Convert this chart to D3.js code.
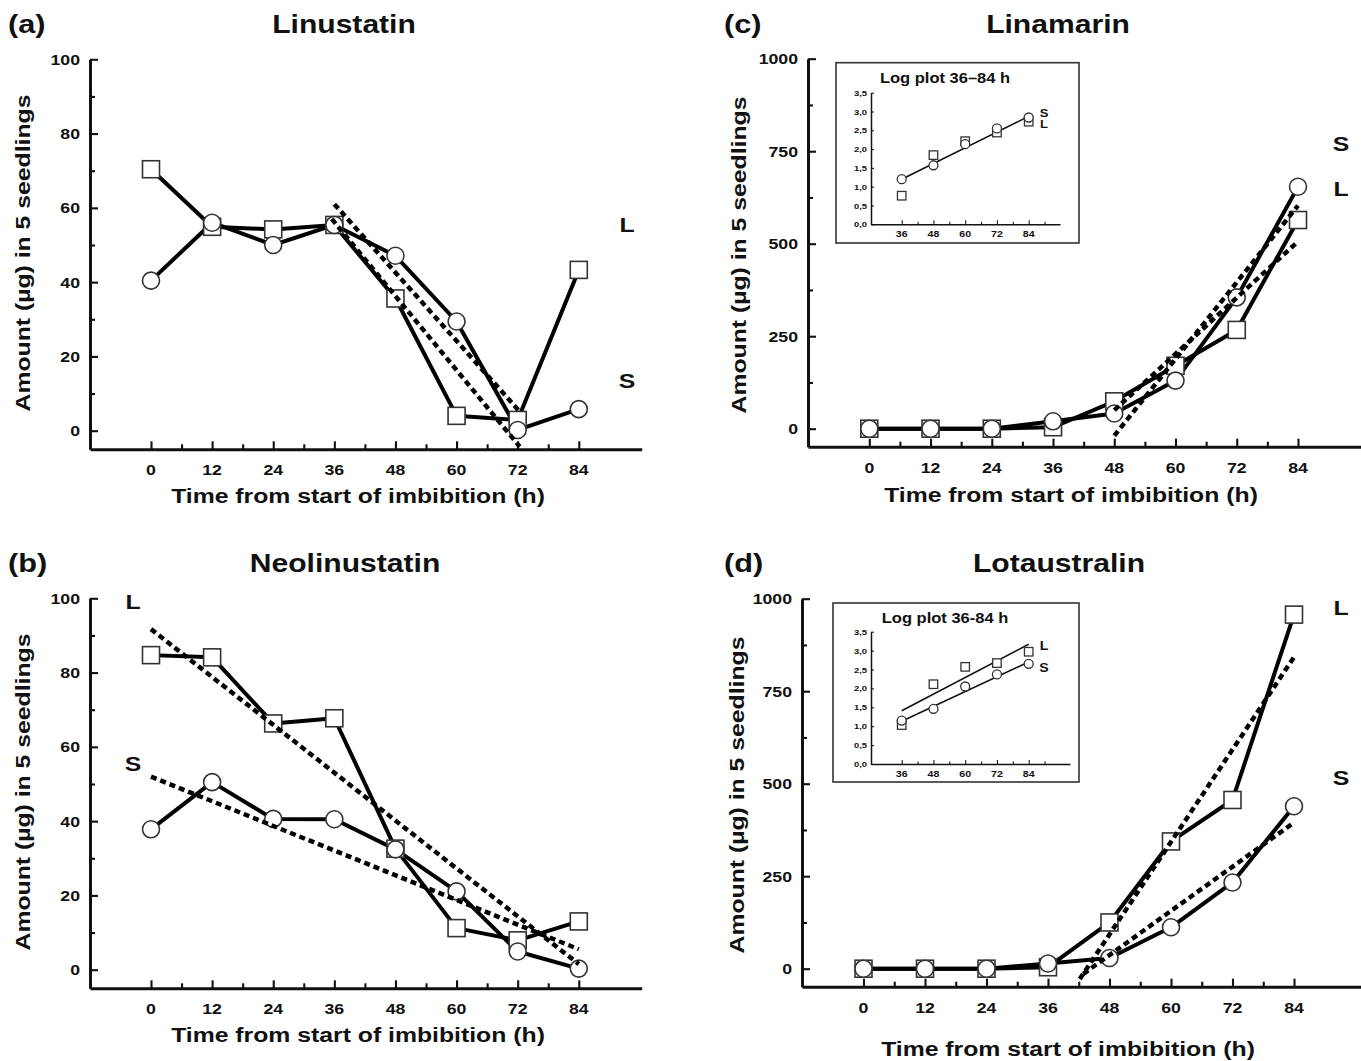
<!DOCTYPE html>
<html>
<head>
<meta charset="utf-8">
<script src="https://cdn.jsdelivr.net/npm/d3@7"></script>
<style>body{margin:0;background:#fff}</style>
</head>
<body>
<svg id="chart" width="1361" height="1061"></svg>
<script>
// time points (h)
var hours=[0,12,24,36,48,60,72,84];
// (a) Linustatin
var linuL=[70.4,54.9,54.2,55.4,35.6,4.0,2.9,43.3];
var linuS=[40.4,56,50,55.4,47.1,29.4,0.2,5.8];
var linuTrendL=[[35.5,57],[72.4,-4.3]];
var linuTrendS=[[36,61],[72.5,5]];
// (b) Neolinustatin
var neoL=[84.7,84.1,66.3,67.7,32.6,11.2,7.9,13.0];
var neoS=[37.8,50.5,40.6,40.5,32.4,21.1,4.9,0.3];
var neoTrendL=[[0,91.7],[84,1.5]];
var neoTrendS=[[0,52],[84,5.5]];
// (c) Linamarin
var linaL=[0,0,0,4,74,170,267,564];
var linaS=[0,0,0,20,41,130,355,654];
var linaTrendA=[[48,-19],[84,603]];
var linaTrendB=[[48,50],[84,506]];
// (d) Lotaustralin
var lotaL=[0,0,0,4,125,344,456,957];
var lotaS=[0,0,0,14,29,112,233,439];
var lotaTrendL=[[42.2,-28],[84,842]];
var lotaTrendS=[[42.9,-14],[84,395]];
// insets, log plot 36-84 h
var logHours=[36,48,60,72,84];
var linaLogL=[0.76,1.84,2.21,2.44,2.73];
var linaLogS=[1.2,1.57,2.13,2.55,2.84];
var linaLogFit=[[36,1.2],[84,2.87]];
var lotaLogL=[1.03,2.11,2.57,2.67,2.97];
var lotaLogS=[1.15,1.46,2.05,2.37,2.65];
var lotaLogFitL=[[36,1.41],[84,3.17]];
var lotaLogFitS=[[36,1.13],[84,2.70]];
// ticks
var xTicks=[0,12,24,36,48,60,72,84];
var xMinor=[6,18,30,42,54,66,78];
var yTicks100=[0,20,40,60,80,100];
var yMinor100=[10,30,50,70,90];
var yTicks1000=[0,250,500,750,1000];
var yMinor1000=[125,375,625,875];
var logYTicks=[0,0.5,1,1.5,2,2.5,3,3.5];
var logXMinor=[42,54,66,78,90];

var SX=1.18;
var svg=d3.select('#chart');

function txt(g,s,x,y,size,anchor,rot){
  return g.append('text')
    .attr('transform','translate('+x+','+y+')'+(rot?' rotate('+rot+')':'')+' scale('+SX+',1)')
    .attr('text-anchor',anchor||'middle')
    .attr('font-family','"Liberation Sans", Arial, sans-serif')
    .attr('font-weight','bold')
    .attr('font-size',size)
    .attr('fill','#111')
    .text(s);
}

function marker(g,shape,cx,cy,sz,sw){
  if(shape=='sq'){
    g.append('rect').attr('x',cx-sz/2).attr('y',cy-sz/2).attr('width',sz).attr('height',sz)
      .attr('fill','#fff').attr('stroke','#333').attr('stroke-width',sw);
  } else {
    g.append('circle').attr('cx',cx).attr('cy',cy).attr('r',sz/2)
      .attr('fill','#fff').attr('stroke','#333').attr('stroke-width',sw);
  }
}

function styleAxis(a,w){
  a.select('.domain').attr('stroke','#111').attr('stroke-width',w);
  a.selectAll('.tick line').attr('stroke','#111').attr('stroke-width',w*0.7);
}

function panel(p){
  var g=svg.append('g');
  var x0=d3.scaleLinear().domain([0,84]).range(p.xr);
  var y0=d3.scaleLinear().domain([0,p.yMax]).range(p.yr);
  var xs=x0.copy().domain([x0.invert(p.axX),x0.invert(p.xEnd)]).range([p.axX,p.xEnd]);
  var ys=y0.copy().domain([y0.invert(p.axY),p.yMax]).range([p.axY,y0(p.yMax)]);

  var ay=g.append('g').attr('transform','translate('+p.axX+',0)')
    .call(d3.axisLeft(ys).tickValues(p.yTicks).tickSizeInner(-8).tickSizeOuter(0).tickFormat(''));
  styleAxis(ay,3);
  var aym=g.append('g').attr('transform','translate('+p.axX+',0)')
    .call(d3.axisLeft(ys).tickValues(p.yMinor).tickSizeInner(-5).tickSizeOuter(0).tickFormat(''));
  aym.select('.domain').remove();
  styleAxis(aym,3);
  var ax=g.append('g').attr('transform','translate(0,'+p.axY+')')
    .call(d3.axisBottom(xs).tickValues(xTicks).tickSizeInner(-8).tickSizeOuter(0).tickFormat(''));
  styleAxis(ax,3);
  var axm=g.append('g').attr('transform','translate(0,'+p.axY+')')
    .call(d3.axisBottom(xs).tickValues(xMinor).tickSizeInner(-5).tickSizeOuter(0).tickFormat(''));
  axm.select('.domain').remove();
  styleAxis(axm,3);

  p.yTicks.forEach(function(v){ txt(g,v,p.axX-10,ys(v)+5.5,15,'end'); });
  xTicks.forEach(function(v){ txt(g,v,xs(v),p.axY+26,15,'middle'); });

  txt(g,'Amount (\u00b5g) in 5 seedlings',p.ylX,p.ylY,21,'middle',-90);
  txt(g,'Time from start of imbibition (h)',p.xlX,p.xlY,21,'middle');
  txt(g,p.letter,p.letX,p.titleY,26,'start');
  txt(g,p.title,p.titleX,p.titleY,25.5,'middle');

  var line=d3.line().x(function(d){return xs(d[0]);}).y(function(d){return ys(d[1]);});
  p.series.forEach(function(s){
    g.append('path').datum(hours.map(function(h,i){return [h,s.vals[i]];}))
      .attr('d',line).attr('fill','none').attr('stroke','#000').attr('stroke-width',4)
      .attr('stroke-linejoin','round');
  });
  p.series.forEach(function(s){
    hours.forEach(function(h,i){ marker(g,s.shape,xs(h),ys(s.vals[i]),17,1.6); });
  });
  p.trends.forEach(function(t){
    g.append('path').datum(t).attr('d',line).attr('fill','none').attr('stroke','#000')
      .attr('stroke-width',4.5).attr('stroke-dasharray','6,4');
  });
  p.labels.forEach(function(l){ txt(g,l[0],l[1],l[2],21,'middle'); });

  if(p.inset) inset(p.inset);
}

function inset(q){
  var g=svg.append('g');
  g.append('rect').attr('x',q.box[0]).attr('y',q.box[1]).attr('width',q.box[2]-q.box[0]).attr('height',q.box[3]-q.box[1])
    .attr('fill','#fff').attr('stroke','#333').attr('stroke-width',1.6);
  var x0=d3.scaleLinear().domain([36,84]).range([901.7,1028.7]);
  var xs=x0.copy().domain([x0.invert(q.axX),x0.invert(q.xEnd)]).range([q.axX,q.xEnd]);
  var ys=d3.scaleLinear().domain([0,3.5]).range(q.yr);
  var ay=g.append('g').attr('transform','translate('+q.axX+',0)')
    .call(d3.axisLeft(ys).tickValues(logYTicks).tickSizeInner(-3).tickSizeOuter(0).tickFormat(''));
  styleAxis(ay,1.5);
  var ax=g.append('g').attr('transform','translate(0,'+ys(0)+')')
    .call(d3.axisBottom(xs).tickValues(logHours).tickSizeInner(-4).tickSizeOuter(0).tickFormat(''));
  styleAxis(ax,1.5);
  var axm=g.append('g').attr('transform','translate(0,'+ys(0)+')')
    .call(d3.axisBottom(xs).tickValues(logXMinor).tickSizeInner(-2.5).tickSizeOuter(0).tickFormat(''));
  axm.select('.domain').remove();
  styleAxis(axm,1.5);
  logYTicks.forEach(function(v){ txt(g,v.toFixed(1).replace('.',','),q.axX-4,ys(v)+3,8,'end'); });
  logHours.forEach(function(v){ txt(g,v,xs(v),ys(0)+13,9,'middle'); });
  txt(g,q.title,945,q.titleY,14,'middle');

  var line=d3.line().x(function(d){return xs(d[0]);}).y(function(d){return ys(d[1]);});
  q.fits.forEach(function(f){
    g.append('path').datum(f).attr('d',line).attr('fill','none').attr('stroke','#111').attr('stroke-width',1.6);
  });
  q.series.forEach(function(s){
    logHours.forEach(function(h,i){ marker(g,s.shape,xs(h),ys(s.vals[i]),s.shape=='sq'?8.5:9,1.3); });
  });
  q.labels.forEach(function(l){ txt(g,l[0],l[1],l[2],l[3],'middle'); });
}

panel({letter:'(a)',title:'Linustatin',letX:8,titleX:344,titleY:33,
  axX:90,axY:449.3,xr:[151,578.8],yr:[430.7,59.3],yMax:100,xEnd:641.7,
  yTicks:yTicks100,yMinor:yMinor100,ylX:30,ylY:253,xlX:358,xlY:503,
  series:[{vals:linuL,shape:'sq'},{vals:linuS,shape:'ci'}],
  trends:[linuTrendL,linuTrendS],
  labels:[['L',627,232],['S',627,388]]});

panel({letter:'(b)',title:'Neolinustatin',letX:8,titleX:345,titleY:572,
  axX:90,axY:988.3,xr:[151,578.8],yr:[969.7,598.3],yMax:100,xEnd:641.7,
  yTicks:yTicks100,yMinor:yMinor100,ylX:30,ylY:792,xlX:358,xlY:1042,
  series:[{vals:neoL,shape:'sq'},{vals:neoS,shape:'ci'}],
  trends:[neoTrendL,neoTrendS],
  labels:[['L',133,609],['S',133,771]]});

panel({letter:'(c)',title:'Linamarin',letX:724,titleX:1058,titleY:33,
  axX:808,axY:446.7,xr:[869.3,1298],yr:[428.7,58.7],yMax:1000,xEnd:1361,
  yTicks:yTicks1000,yMinor:yMinor1000,ylX:746,ylY:255,xlX:1071,xlY:502,
  series:[{vals:linaL,shape:'sq'},{vals:linaS,shape:'ci'}],
  trends:[linaTrendA,linaTrendB],
  labels:[['S',1341,151],['L',1341,196]],
  inset:{box:[836,62.7,1079,243],axX:871,xEnd:1060,yr:[224.3,92.7],
    title:'Log plot 36\u201384 h',titleY:83,
    fits:[linaLogFit],
    series:[{vals:linaLogL,shape:'sq'},{vals:linaLogS,shape:'ci'}],
    labels:[['S',1044,117,11],['L',1044,128,11]]}});

panel({letter:'(d)',title:'Lotaustralin',letX:724,titleX:1059,titleY:572,
  axX:802,axY:986.7,xr:[863.5,1294],yr:[968.7,598.7],yMax:1000,xEnd:1361,
  yTicks:yTicks1000,yMinor:yMinor1000,ylX:744,ylY:795,xlX:1068,xlY:1056,
  series:[{vals:lotaL,shape:'sq'},{vals:lotaS,shape:'ci'}],
  trends:[lotaTrendL,lotaTrendS],
  labels:[['L',1341,615],['S',1341,785]],
  inset:{box:[833,603,1079,782],axX:871,xEnd:1070,yr:[764,631.7],
    title:'Log plot 36-84 h',titleY:623,
    fits:[lotaLogFitL,lotaLogFitS],
    series:[{vals:lotaLogL,shape:'sq'},{vals:lotaLogS,shape:'ci'}],
    labels:[['L',1044,650,12],['S',1044,672,12]]}});
</script>
</body>
</html>
